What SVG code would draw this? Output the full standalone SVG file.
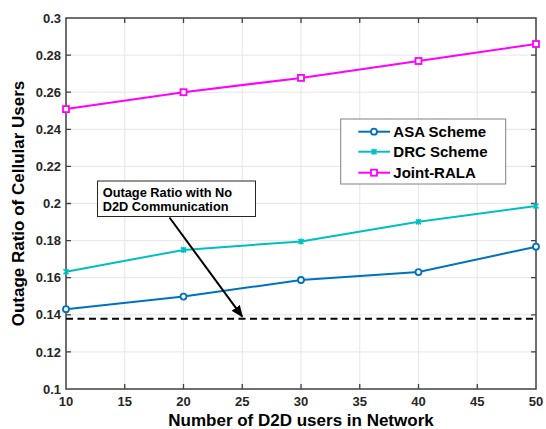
<svg xmlns="http://www.w3.org/2000/svg" width="546" height="429" viewBox="0 0 546 429">
  <style>
    text { font-family: "Liberation Sans", Arial, sans-serif; font-weight: bold; }
    .grid { stroke: #e6e6e6; stroke-width: 1; fill: none; }
    .axis { stroke: #404040; stroke-width: 1.5; fill: none; }
    .tick { stroke: #404040; stroke-width: 1.3; }
    .tl { font-size: 13px; fill: #262626; }
    .lbl { font-size: 17px; fill: #000; }
    .asa { stroke: #0072bd; stroke-width: 2; fill: none; }
    .drc { stroke: #00bfbf; stroke-width: 2; fill: none; }
    .jr { stroke: #ff00ff; stroke-width: 2; fill: none; }
    .leg { font-size: 15px; fill: #000; }
  </style>
  <defs>
    <marker id="arrowhead" markerWidth="12" markerHeight="10" refX="11" refY="5" orient="auto" markerUnits="userSpaceOnUse">
      <path d="M0,0 L12,5 L0,10 Z" fill="#000"/>
    </marker>
    <g id="mCircle"><circle r="3" fill="#fff" stroke="#0072bd" stroke-width="1.8"/></g>
    <g id="mCross"><path d="M-2.5,-2.5 L2.5,2.5 M-2.5,2.5 L2.5,-2.5 M0,-3 L0,3" stroke="#00bfbf" stroke-width="1.6"/></g>
    <g id="mSquare"><rect x="-3" y="-3" width="6" height="6" fill="#fff" stroke="#ff00ff" stroke-width="1.8"/></g>
  </defs>

  <rect width="546" height="429" fill="#fff"/>

  <!-- grid -->
  <g id="grid" class="grid">
    <path d="M124.75,18V389 M183.5,18V389 M242.25,18V389 M301,18V389 M359.75,18V389 M418.5,18V389 M477.25,18V389"/>
    <path d="M66,351.9H536 M66,314.8H536 M66,277.7H536 M66,240.6H536 M66,203.5H536 M66,166.4H536 M66,129.3H536 M66,92.2H536 M66,55.1H536"/>
  </g>

  <!-- axes box and ticks -->
  <g id="axes">
    <rect class="axis" x="66" y="18" width="470" height="371"/>
    <path class="tick" d="M124.75,389v-5 M183.5,389v-5 M242.25,389v-5 M301,389v-5 M359.75,389v-5 M418.5,389v-5 M477.25,389v-5
      M124.75,18v5 M183.5,18v5 M242.25,18v5 M301,18v5 M359.75,18v5 M418.5,18v5 M477.25,18v5
      M66,351.9h5 M66,314.8h5 M66,277.7h5 M66,240.6h5 M66,203.5h5 M66,166.4h5 M66,129.3h5 M66,92.2h5 M66,55.1h5
      M536,351.9h-5 M536,314.8h-5 M536,277.7h-5 M536,240.6h-5 M536,203.5h-5 M536,166.4h-5 M536,129.3h-5 M536,92.2h-5 M536,55.1h-5"/>
    <g class="tl" text-anchor="end">
      <text x="61" y="393.6">0.1</text>
      <text x="61" y="356.5">0.12</text>
      <text x="61" y="319.4">0.14</text>
      <text x="61" y="282.3">0.16</text>
      <text x="61" y="245.2">0.18</text>
      <text x="61" y="208.1">0.2</text>
      <text x="61" y="171">0.22</text>
      <text x="61" y="133.9">0.24</text>
      <text x="61" y="96.8">0.26</text>
      <text x="61" y="59.7">0.28</text>
      <text x="61" y="22.6">0.3</text>
    </g>
    <g class="tl" text-anchor="middle">
      <text x="66" y="406">10</text>
      <text x="124.75" y="406">15</text>
      <text x="183.5" y="406">20</text>
      <text x="242.25" y="406">25</text>
      <text x="301" y="406">30</text>
      <text x="359.75" y="406">35</text>
      <text x="418.5" y="406">40</text>
      <text x="477.25" y="406">45</text>
      <text x="536" y="406">50</text>
    </g>
    <text class="lbl" x="301" y="426" text-anchor="middle">Number of D2D users in Network</text>
    <text class="lbl" transform="translate(24,203.5) rotate(-90)" text-anchor="middle">Outage Ratio of Cellular Users</text>
  </g>

  <!-- data series -->
  <g id="series-asa">
    <polyline class="asa" points="66,309.2 183.5,296.6 301,280 418.5,272.1 536,246.7"/>
    <use href="#mCircle" x="66" y="309.2"/>
    <use href="#mCircle" x="183.5" y="296.6"/>
    <use href="#mCircle" x="301" y="280"/>
    <use href="#mCircle" x="418.5" y="272.1"/>
    <use href="#mCircle" x="536" y="246.7"/>
  </g>
  <g id="series-drc">
    <polyline class="drc" points="66,271.8 183.5,249.9 301,241.5 418.5,221.7 536,206"/>
    <use href="#mCross" x="66" y="271.8"/>
    <use href="#mCross" x="183.5" y="249.9"/>
    <use href="#mCross" x="301" y="241.5"/>
    <use href="#mCross" x="418.5" y="221.7"/>
    <use href="#mCross" x="536" y="206"/>
  </g>
  <g id="series-joint-rala">
    <polyline class="jr" points="66,109.1 183.5,92.2 301,77.9 418.5,61 536,44"/>
    <use href="#mSquare" x="66" y="109.1"/>
    <use href="#mSquare" x="183.5" y="92.2"/>
    <use href="#mSquare" x="301" y="77.9"/>
    <use href="#mSquare" x="418.5" y="61"/>
    <use href="#mSquare" x="536" y="44"/>
  </g>

  <!-- baseline without D2D -->
  <g id="baseline">
    <line x1="66" y1="318.7" x2="536" y2="318.7" stroke="#000" stroke-width="2" stroke-dasharray="7 4.5"/>
  </g>

  <!-- annotation -->
  <g id="annotation">
    <rect x="97.5" y="181" width="158" height="35.5" fill="#fff" stroke="#262626" stroke-width="1"/>
    <text x="102.7" y="196.7" font-size="12.8" fill="#000">Outage Ratio with No</text>
    <text x="102.7" y="210.7" font-size="12.8" fill="#000">D2D Communication</text>
  </g>
  <g id="connectors">
    <line x1="169.5" y1="217.5" x2="242.3" y2="316.7" stroke="#000" stroke-width="2" marker-end="url(#arrowhead)"/>
  </g>

  <!-- legend -->
  <g id="legend">
    <rect x="340.7" y="119" width="165" height="65" fill="#fff" stroke="#808080" stroke-width="1"/>
    <line class="asa" x1="358.3" y1="131.7" x2="390" y2="131.7"/>
    <use href="#mCircle" x="374" y="131.7"/>
    <text class="leg" x="393.3" y="137">ASA Scheme</text>
    <line class="drc" x1="358.3" y1="151.7" x2="390" y2="151.7"/>
    <use href="#mCross" x="374" y="151.7"/>
    <text class="leg" x="393.3" y="157">DRC Scheme</text>
    <line class="jr" x1="358.3" y1="172.7" x2="390" y2="172.7"/>
    <use href="#mSquare" x="374" y="172.7"/>
    <text class="leg" x="393.3" y="178">Joint-RALA</text>
  </g>
</svg>
